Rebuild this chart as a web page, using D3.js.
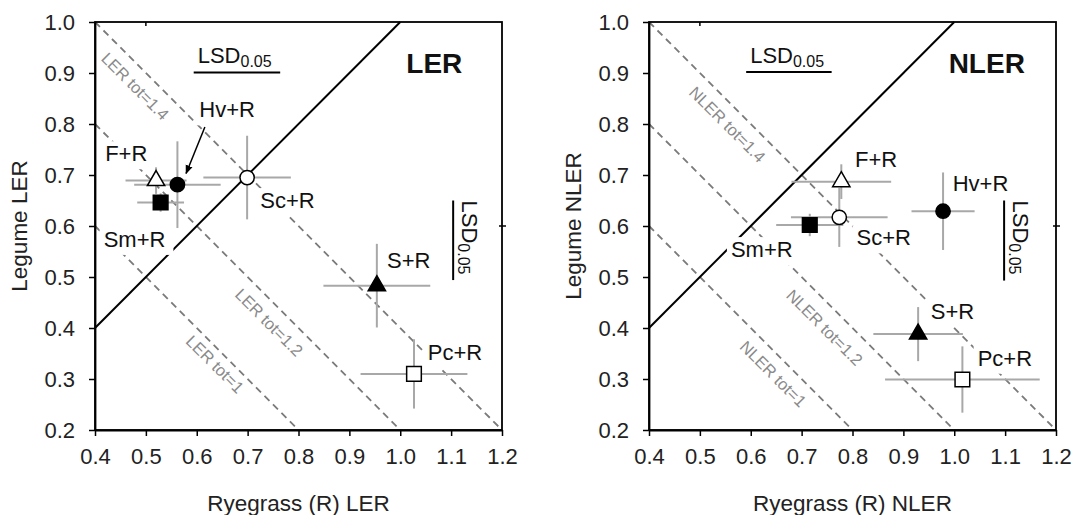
<!DOCTYPE html>
<html>
<head>
<meta charset="utf-8">
<script src="https://cdn.jsdelivr.net/npm/d3@7"></script>
<style>
  body { margin: 0; background: #fff; }
  svg { display: block; font-family: "Liberation Sans", Arial, sans-serif; }
</style>
</head>
<body>
<svg id="chart" width="1079" height="515"></svg>
<script>
// mixtures and their marker style
const mixtures = ["F+R", "Hv+R", "Sm+R", "Sc+R", "S+R", "Pc+R"];
const shapes = ["triangle", "circle", "square", "circle", "triangle", "square"];
const filled = [false, true, true, false, true, false];

// LER panel values (mean and error)
const lerRyegrass    = [0.520, 0.562, 0.529, 0.699, 0.954, 1.027];
const lerRyegrassErr = [0.060, 0.085, 0.046, 0.086, 0.105, 0.105];
const lerLegume      = [0.689, 0.681, 0.646, 0.695, 0.483, 0.310];
const lerLegumeErr   = [0.026, 0.085, 0.018, 0.082, 0.082, 0.068];

// NLER panel values
const nlerRyegrass    = [0.778, 0.978, 0.716, 0.774, 0.929, 1.016];
const nlerRyegrassErr = [0.098, 0.062, 0.066, 0.095, 0.088, 0.152];
const nlerLegume      = [0.687, 0.629, 0.602, 0.617, 0.388, 0.299];
const nlerLegumeErr   = [0.034, 0.076, 0.022, 0.058, 0.053, 0.065];

// iso-total lines and LSD bars
const totals = [1, 1.2, 1.4];
const lsdLer  = [0.170, 0.156];   // ryegrass, legume
const lsdNler = [0.168, 0.157];

// axis ticks
const xTicks = [0.4, 0.5, 0.6, 0.7, 0.8, 0.9, 1.0, 1.1, 1.2];
const yTicks = [0.2, 0.3, 0.4, 0.5, 0.6, 0.7, 0.8, 0.9, 1.0];

// where the annotations sit (data units)
const lerLabelAt  = [[0.420, 0.727], [0.605, 0.813], [0.417, 0.559], [0.725, 0.635], [0.974, 0.518], [1.054, 0.337]];
const nlerLabelAt = [[0.805, 0.715], [0.997, 0.668], [0.561, 0.539], [0.808, 0.562], [0.954, 0.418], [1.046, 0.326]];
const lerTotAt  = [[0.636, 0.329], [0.742, 0.411], [0.479, 0.874]];
const nlerTotAt = [[0.644, 0.310], [0.745, 0.401], [0.554, 0.799]];

const svg = d3.select("#chart");
const W = 407, H = 408;
const fmt = d3.format(".1f");

svg.append("defs").append("marker")
  .attr("id", "arrow")
  .attr("viewBox", "0 0 10 10")
  .attr("refX", 9).attr("refY", 5)
  .attr("markerWidth", 9).attr("markerHeight", 9)
  .attr("markerUnits", "userSpaceOnUse")
  .attr("orient", "auto")
  .append("path").attr("d", "M0,1 L10,5 L0,9 Z").attr("fill", "#000");

function drawPanel(opt) {
  const g = svg.append("g").attr("transform", `translate(${opt.left},22)`);
  const x = d3.scaleLinear().domain([0.4, 1.2]).range([0, W]);
  const y = d3.scaleLinear().domain([0.2, 1.0]).range([H, 0]);

  // dashed iso-total lines
  totals.forEach((t, i) => {
    g.append("line")
      .attr("x1", x(0.4)).attr("y1", y(t - 0.4))
      .attr("x2", x(t - 0.2)).attr("y2", y(0.2))
      .attr("stroke", "#7a7a7a").attr("stroke-width", 1.8)
      .attr("stroke-dasharray", "7,5");
    const [cx, cy] = opt.totAt[i];
    g.append("text")
      .attr("transform", `translate(${x(cx)},${y(cy)}) rotate(45)`)
      .attr("text-anchor", "middle").attr("dy", "0.35em")
      .attr("font-size", 16.5).attr("fill", "#8a8a8a")
      .text(`${opt.name} tot=${t}`);
  });

  // 1:1 line
  g.append("line")
    .attr("x1", x(0.4)).attr("y1", y(0.4))
    .attr("x2", x(1.0)).attr("y2", y(1.0))
    .attr("stroke", "#000").attr("stroke-width", 2);

  // mixture labels with white boxes
  mixtures.forEach((m, i) => {
    const [lx, ly] = opt.labelAt[i];
    const t = g.append("text")
      .attr("x", x(lx)).attr("y", y(ly))
      .attr("font-size", 22).attr("fill", "#111")
      .text(m);
    const b = t.node().getBBox();
    g.insert("rect", () => t.node())
      .attr("x", b.x - 4).attr("y", b.y)
      .attr("width", b.width + 12).attr("height", b.height + 3)
      .attr("fill", "#fff");
  });

  const pts = mixtures.map((m, i) => ({
    name: m, shape: shapes[i], filled: filled[i],
    rx: opt.rye[i], rxe: opt.ryeErr[i], ly: opt.leg[i], lye: opt.legErr[i]
  }));

  // error bars
  const eb = g.append("g").attr("stroke", "#a8a8a8").attr("stroke-width", 2);
  eb.selectAll(".h").data(pts).join("line")
    .attr("x1", d => x(d.rx - d.rxe)).attr("x2", d => x(d.rx + d.rxe))
    .attr("y1", d => y(d.ly)).attr("y2", d => y(d.ly));
  eb.selectAll(".v").data(pts).join("line")
    .attr("x1", d => x(d.rx)).attr("x2", d => x(d.rx))
    .attr("y1", d => y(d.ly - d.lye)).attr("y2", d => y(d.ly + d.lye));

  // symbols
  const symType = { triangle: d3.symbolTriangle, circle: d3.symbolCircle, square: d3.symbolSquare };
  const symSize = { triangle: 130, circle: 160, square: 215 };
  g.selectAll(".pt").data(pts).join("path")
    .attr("transform", d => `translate(${x(d.rx)},${y(d.ly)})`)
    .attr("d", d => d3.symbol(symType[d.shape], symSize[d.shape])())
    .attr("fill", d => d.filled ? "#000" : "#fff")
    .attr("stroke", "#000").attr("stroke-width", 1.5);

  // arrow for crowded label
  if (opt.arrow) {
    const [a, b] = opt.arrow;
    g.append("line")
      .attr("x1", x(a[0])).attr("y1", y(a[1]))
      .attr("x2", x(b[0])).attr("y2", y(b[1]))
      .attr("stroke", "#000").attr("stroke-width", 1.5)
      .attr("marker-end", "url(#arrow)");
  }

  // LSD bars
  const [lsdX, lsdY] = opt.lsd;
  const hx = opt.lsdH[0], hy = opt.lsdH[1];
  g.append("line")
    .attr("x1", x(hx)).attr("x2", x(hx + lsdX))
    .attr("y1", y(hy)).attr("y2", y(hy))
    .attr("stroke", "#000").attr("stroke-width", 2);
  const ht = g.append("text")
    .attr("x", x(hx) + 4).attr("y", y(hy) - 9)
    .attr("font-size", 22).attr("fill", "#111");
  ht.append("tspan").text("LSD");
  ht.append("tspan").attr("font-size", 16).attr("dy", 4).text("0.05");

  const vx = opt.lsdV[0], vy = opt.lsdV[1];
  g.append("line")
    .attr("x1", x(vx)).attr("x2", x(vx))
    .attr("y1", y(vy)).attr("y2", y(vy + lsdY))
    .attr("stroke", "#000").attr("stroke-width", 2);
  const vt = g.append("text")
    .attr("transform", `translate(${x(vx) + 9},${y(vy + lsdY)}) rotate(90)`)
    .attr("font-size", 22).attr("fill", "#111");
  vt.append("tspan").text("LSD");
  vt.append("tspan").attr("font-size", 16).attr("dy", 4).text("0.05");

  // panel title
  g.append("text")
    .attr("x", x(opt.titleAt[0])).attr("y", y(opt.titleAt[1]))
    .attr("font-size", 28).attr("font-weight", "bold").attr("fill", "#111")
    .text(opt.name);

  // axes and frame
  g.append("rect").attr("width", W).attr("height", H)
    .attr("fill", "none").attr("stroke", "#000").attr("stroke-width", 1.8);
  // stray mirror ticks on the frame
  g.append("line").attr("x1", x(0.5)).attr("x2", x(0.5)).attr("y1", 0).attr("y2", 4)
    .attr("stroke", "#000").attr("stroke-width", 1.5);
  g.append("line").attr("x1", W - 3).attr("x2", W + 4).attr("y1", y(0.6)).attr("y2", y(0.6))
    .attr("stroke", "#000").attr("stroke-width", 1.5);

  const ax = g.append("g").attr("transform", `translate(0,${H})`)
    .call(d3.axisBottom(x).tickValues(xTicks).tickFormat(fmt).tickSize(6).tickSizeOuter(0).tickPadding(12));
  const ay = g.append("g")
    .call(d3.axisLeft(y).tickValues(yTicks).tickFormat(fmt).tickSize(6).tickSizeOuter(0).tickPadding(14));
  [ax, ay].forEach(a => {
    a.select(".domain").attr("stroke", "#000").attr("stroke-width", 1.8);
    a.selectAll(".tick line").attr("stroke", "#000").attr("stroke-width", 1.5);
    a.selectAll("text").attr("font-size", 22).attr("fill", "#222")
      .attr("font-family", "Liberation Sans, Arial, sans-serif");
  });

  g.append("text")
    .attr("x", W / 2).attr("y", 489)
    .attr("text-anchor", "middle").attr("font-size", 22.5).attr("fill", "#222")
    .text(`Ryegrass (R) ${opt.name}`);
  g.append("text")
    .attr("transform", `translate(-68,${H / 2}) rotate(-90)`)
    .attr("text-anchor", "middle").attr("font-size", 22.5).attr("fill", "#222")
    .text(`Legume ${opt.name}`);
}

drawPanel({
  left: 95, name: "LER",
  rye: lerRyegrass, ryeErr: lerRyegrassErr, leg: lerLegume, legErr: lerLegumeErr,
  labelAt: lerLabelAt, totAt: lerTotAt,
  lsd: lsdLer, lsdH: [0.594, 0.901], lsdV: [1.104, 0.494],
  titleAt: [1.012, 0.900],
  arrow: [[0.616, 0.794], [0.579, 0.703]]
});

drawPanel({
  left: 649, name: "NLER",
  rye: nlerRyegrass, ryeErr: nlerRyegrassErr, leg: nlerLegume, legErr: nlerLegumeErr,
  labelAt: nlerLabelAt, totAt: nlerTotAt,
  lsd: lsdNler, lsdH: [0.591, 0.902], lsdV: [1.098, 0.493],
  titleAt: [0.989, 0.900]
});
</script>
</body>
</html>
